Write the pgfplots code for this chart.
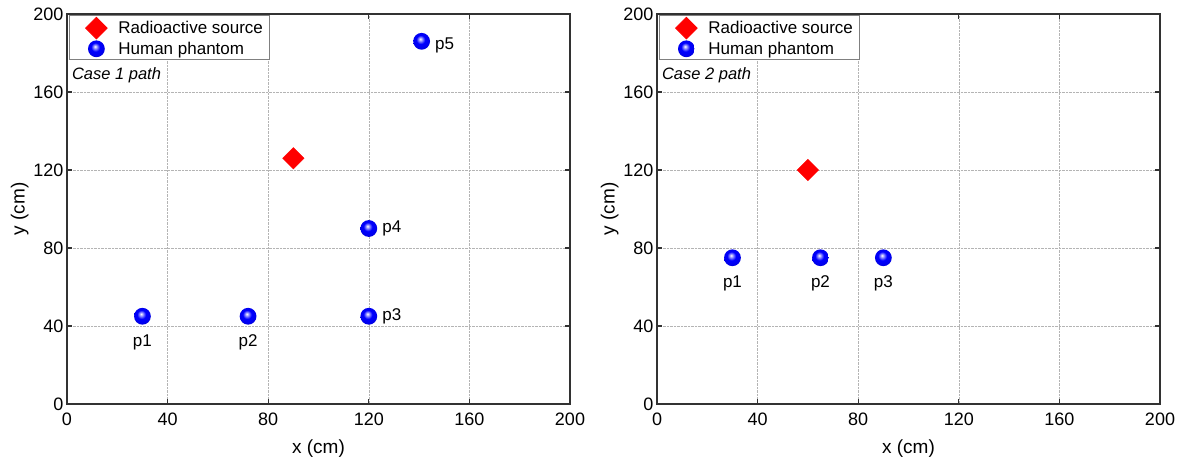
\documentclass[border=0pt]{standalone}
\usepackage{pgfplots}
\pgfplotsset{compat=1.18}
\usepackage{fontspec}
\setmainfont{Liberation Sans}

\definecolor{axisgray}{RGB}{50,50,50}
\definecolor{gridgray}{RGB}{180,180,180}
\definecolor{srcred}{RGB}{255,0,0}

% glossy blue sphere used for the phantom positions
\pgfdeclareradialshading{shinyblue}{\pgfpoint{-4bp}{7bp}}{%
  color(0bp)=(white);
  color(5bp)=(blue!40!white);
  color(13bp)=(blue);
  color(25bp)=(blue!92!black);
  color(33bp)=(blue!60!black);
  color(50bp)=(blue!60!black)}
\pgfdeclareplotmark{shinyball}{%
  \pgfpathcircle{\pgfpointorigin}{\pgfplotmarksize}%
  \pgfshadepath{shinyblue}{0}%
  \pgfusepath{discard}}

\tikzset{
  plabel/.style={font=\fontsize{17}{19}\selectfont},
  casetext/.style={anchor=west, font=\fontsize{16.5}{18}\selectfont\itshape},
}

\pgfplotsset{
  posplot/.style={
    scale only axis,
    width=503pt, height=390pt,
    xmin=0, xmax=200, ymin=0, ymax=200,
    xtick={0,40,...,200}, ytick={0,40,...,200},
    tick align=inside,
    major tick length=5pt,
    grid=major,
    major grid style={gridgray, densely dotted, line width=0.6pt},
    axis line style={axisgray, line width=1.4pt},
    every tick/.style={axisgray, line width=1.2pt},
    /pgf/number format/assume math mode=true,
    ticklabel style={font=\fontsize{18}{20}\selectfont},
    xticklabel style={yshift=-5pt},
    label style={font=\fontsize{19}{22}\selectfont},
    xlabel={x (cm)}, ylabel={y (cm)},
    xlabel style={yshift=-8pt},
    ylabel style={yshift=-2pt},
    legend style={
      at={(rel axis cs:0,1)}, anchor=north west,
      xshift=2pt, yshift=-1pt,
      draw=gray, line width=0.8pt,
      font=\fontsize{17}{19}\selectfont,
      row sep=1pt, inner xsep=4pt, inner ysep=2pt,
      legend cell align=left,
    },
  },
  % single marker with room on both sides of it in the key
  markkey/.style={
    legend image code/.code={%
      \draw[mark repeat=2, mark phase=2, ##1]
        plot coordinates {(-1pt,0pt) (0pt,0pt) (1pt,0pt)};
      \path[draw=none, fill=none] (-23pt,0pt) -- (20pt,0pt);}},
  source/.style={only marks, mark=square*, mark size=7.6pt,
    mark options={rotate=45, fill=srcred, draw=srcred}, markkey},
  phantom/.style={only marks, mark=shinyball, mark size=8.4pt, markkey},
}

\begin{document}
\begin{tikzpicture}
\useasboundingbox (-67pt,-56pt) rectangle (1119pt,404pt);

% Case 1
\begin{axis}[posplot]
\addplot[source] coordinates {(90,126)};
\addlegendentry{Radioactive source}
\addplot[phantom] coordinates {(30,45) (72,45) (120,45) (120,90) (141,186)};
\addlegendentry{Human phantom}
\node[casetext] at (rel axis cs:0.003,0.842) {Case 1 path};
\node[plabel, anchor=north] at (axis cs:30,37.5) {p1};
\node[plabel, anchor=north] at (axis cs:72,37.5) {p2};
\node[plabel, anchor=west] at (axis cs:124,45) {p3};
\node[plabel, anchor=west] at (axis cs:124,90) {p4};
\node[plabel, anchor=west] at (axis cs:145,184) {p5};
\end{axis}

% Case 2
\begin{axis}[posplot, xshift=590pt]
\addplot[source] coordinates {(60,120)};
\addlegendentry{Radioactive source}
\addplot[phantom] coordinates {(30,75) (65,75) (90,75)};
\addlegendentry{Human phantom}
\node[casetext] at (rel axis cs:0.003,0.842) {Case 2 path};
\node[plabel, anchor=north] at (axis cs:30,67.5) {p1};
\node[plabel, anchor=north] at (axis cs:65,67.5) {p2};
\node[plabel, anchor=north] at (axis cs:90,67.5) {p3};
\end{axis}
\end{tikzpicture}
\end{document}
